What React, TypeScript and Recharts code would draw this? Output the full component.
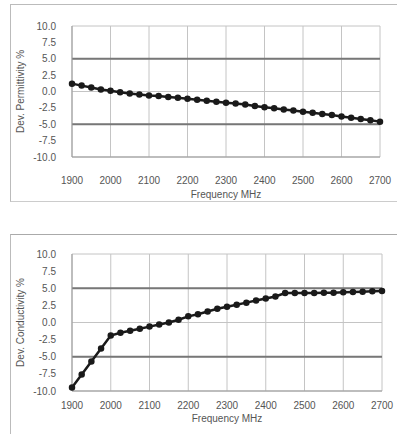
import React from 'react';
import { LineChart, Line, XAxis, YAxis, CartesianGrid, ReferenceLine } from 'recharts';

const freqs = [
  1900, 1925, 1950, 1975, 2000, 2025, 2050, 2075, 2100, 2125, 2150, 2175, 2200, 2225, 2250, 2275, 2300,
  2325, 2350, 2375, 2400, 2425, 2450, 2475, 2500, 2525, 2550, 2575, 2600, 2625, 2650, 2675, 2700,
];
const permittivityDev = [
  1.2, 0.9, 0.6, 0.3, 0.1, -0.1, -0.3, -0.45, -0.6, -0.7, -0.85, -0.95, -1.1, -1.25, -1.4, -1.55, -1.7,
  -1.85, -2.0, -2.2, -2.4, -2.55, -2.75, -2.9, -3.1, -3.25, -3.45, -3.6, -3.8, -4.0, -4.2, -4.4, -4.6,
];
const conductivityDev = [
  -9.5, -7.6, -5.7, -3.8, -1.9, -1.5, -1.2, -0.9, -0.6, -0.3, 0.0, 0.4, 0.9, 1.2, 1.6, 2.0, 2.3,
  2.6, 2.9, 3.2, 3.5, 3.8, 4.3, 4.3, 4.3, 4.3, 4.35, 4.35, 4.4, 4.45, 4.5, 4.55, 4.6,
];
const xTicks = [1900, 2000, 2100, 2200, 2300, 2400, 2500, 2600, 2700];
const yTicks = [-10, -7.5, -5, -2.5, 0, 2.5, 5, 7.5, 10];
const limits = [5, -5];

const permData = freqs.map((f, i) => ({ f, v: permittivityDev[i] }));
const condData = freqs.map((f, i) => ({ f, v: conductivityDev[i] }));

const font = '"Liberation Sans", Arial, sans-serif';
const tickStyle = { fill: '#555', fontSize: 10, fontFamily: font };

interface DevChartProps {
  data: { f: number; v: number }[];
  yTitle: string;
  width: number;
  height: number;
  margin: { top: number; right: number; bottom: number; left: number };
  xHeight: number;
  xTickMargin: number;
}

function DevChart({ data, yTitle, width, height, margin, xHeight, xTickMargin }: DevChartProps) {
  return (
    <LineChart width={width} height={height} data={data} margin={margin}>
      <CartesianGrid stroke="#c4c4c4" strokeWidth={1} />
      <XAxis
        dataKey="f"
        type="number"
        domain={[1900, 2700]}
        ticks={xTicks}
        height={xHeight}
        tickLine={false}
        axisLine={{ stroke: '#999' }}
        tickMargin={xTickMargin}
        tick={tickStyle}
        label={{ value: 'Frequency MHz', position: 'insideBottom', offset: 12, style: { fill: '#555', fontSize: 10, fontFamily: font } }}
      />
      <YAxis
        type="number"
        domain={[-10, 10]}
        ticks={yTicks}
        width={72}
        tickLine={false}
        axisLine={{ stroke: '#999' }}
        tickMargin={10}
        tick={tickStyle}
        tickFormatter={(v: number) => v.toFixed(1)}
        label={{ value: yTitle, angle: -90, position: 'insideLeft', offset: 20, style: { textAnchor: 'middle', fill: '#555', fontSize: 10, fontFamily: font } }}
      />
      {limits.map((l) => (
        <ReferenceLine key={l} y={l} stroke="#777" strokeWidth={2} />
      ))}
      <Line
        type="linear"
        dataKey="v"
        stroke="#1a1a1a"
        strokeWidth={2.5}
        dot={{ r: 2, fill: '#1a1a1a', stroke: '#1a1a1a' }}
        isAnimationActive={false}
      />
    </LineChart>
  );
}

export default function App() {
  return (
    <div style={{ position: 'absolute', left: 0, top: 0, width: 397, height: 434, background: '#fff', overflow: 'hidden' }}>
      <div style={{ position: 'absolute', left: 10, top: 4, width: 387, height: 196, borderLeft: '1px solid #bbb', borderTop: '1px solid #bbb', borderBottom: '1px solid #ccc' }} />
      <div style={{ position: 'absolute', left: 10, top: 234, width: 387, height: 200, borderLeft: '1px solid #bbb', borderTop: '1px solid #aaa' }} />
      <div style={{ position: 'absolute', left: 0, top: 0 }}>
        <DevChart
          data={permData}
          yTitle="Dev. Permittivity %"
          width={397}
          height={210}
          margin={{ top: 26, right: 17, bottom: 0, left: 0 }}
          xHeight={53}
          xTickMargin={14}
        />
      </div>
      <div style={{ position: 'absolute', left: 0, top: 210 }}>
        <DevChart
          data={condData}
          yTitle="Dev. Conductivity %"
          width={397}
          height={224}
          margin={{ top: 44, right: 15, bottom: 0, left: 0 }}
          xHeight={43}
          xTickMargin={5}
        />
      </div>
    </div>
  );
}
